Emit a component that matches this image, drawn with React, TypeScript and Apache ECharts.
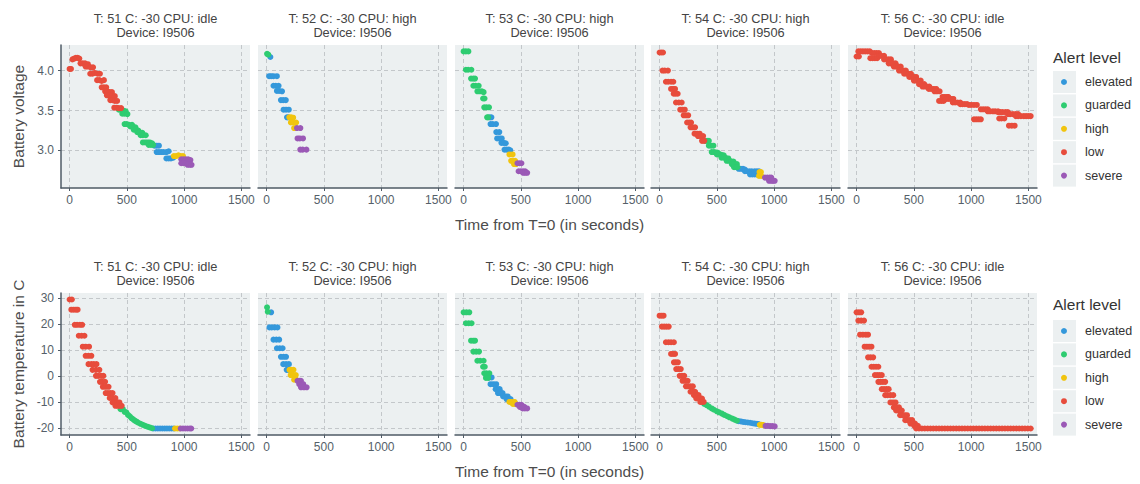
import { useEffect, useRef } from 'react';
import * as echarts from 'echarts';

const levels = ['elevated', 'guarded', 'high', 'low', 'severe'];
const levelCodes = ['e', 'g', 'h', 'l', 's'];
const levelColors = ['#3498db', '#2ecc71', '#f1c40f', '#e74c3c', '#9b59b6'];

const panelTitles = [
  'T: 51 C: -30 CPU: idle',
  'T: 52 C: -30 CPU: high',
  'T: 53 C: -30 CPU: high',
  'T: 54 C: -30 CPU: high',
  'T: 56 C: -30 CPU: idle',
];
const deviceLabel = 'Device: I9506';
const xTicks = [0, 500, 1000, 1500];
const voltTicks = [3.0, 3.5, 4.0];
const tempTicks = [-20, -10, 0, 10, 20, 30];

// [time (s), battery voltage, alert level code]
const volt51 = [
  [0, 4.02, 'l'], [12, 4.02, 'l'],
  [25, 4.14, 'l'], [40, 4.15, 'l'], [55, 4.16, 'l'], [70, 4.16, 'l'], [85, 4.15, 'l'],
  [95, 4.09, 'l'], [115, 4.09, 'l'], [135, 4.09, 'l'], [160, 4.08, 'l'],
  [140, 4.05, 'l'], [160, 4.05, 'l'], [185, 4.04, 'l'], [205, 4.04, 'l'],
  [180, 3.96, 'l'], [200, 3.96, 'l'], [220, 3.97, 'l'], [245, 3.96, 'l'], [265, 3.96, 'l'],
  [240, 3.88, 'l'], [260, 3.88, 'l'], [280, 3.87, 'l'], [300, 3.88, 'l'],
  [280, 3.79, 'l'], [300, 3.79, 'l'], [320, 3.79, 'l'],
  [310, 3.74, 'l'], [330, 3.74, 'l'], [350, 3.73, 'l'], [370, 3.73, 'l'],
  [325, 3.69, 'l'], [345, 3.69, 'l'], [370, 3.68, 'l'], [395, 3.68, 'l'],
  [355, 3.63, 'l'], [375, 3.63, 'l'], [395, 3.62, 'l'], [415, 3.62, 'l'],
  [390, 3.535, 'l'], [410, 3.535, 'l'], [430, 3.53, 'l'], [450, 3.53, 'l'],
  [430, 3.51, 'g'], [450, 3.51, 'g'], [470, 3.5, 'g'], [490, 3.49, 'g'],
  [460, 3.46, 'g'], [480, 3.46, 'g'], [505, 3.455, 'g'],
  [480, 3.33, 'g'], [500, 3.33, 'g'], [520, 3.32, 'g'], [545, 3.32, 'g'],
  [530, 3.3, 'g'], [550, 3.3, 'g'], [575, 3.29, 'g'],
  [560, 3.26, 'g'], [580, 3.26, 'g'], [600, 3.25, 'g'],
  [590, 3.23, 'g'], [610, 3.23, 'g'], [635, 3.22, 'g'],
  [620, 3.19, 'g'], [640, 3.19, 'g'], [665, 3.19, 'g'],
  [640, 3.1, 'g'], [660, 3.1, 'g'], [680, 3.1, 'g'], [700, 3.1, 'g'], [720, 3.09, 'g'],
  [690, 3.07, 'g'], [710, 3.07, 'g'], [730, 3.07, 'g'],
  [740, 3.06, 'e'], [760, 3.06, 'e'], [780, 3.06, 'e'],
  [760, 2.98, 'e'], [780, 2.98, 'e'], [800, 2.98, 'e'], [820, 2.98, 'e'], [845, 2.98, 'e'], [865, 2.99, 'e'],
  [845, 2.9, 'e'], [865, 2.9, 'e'], [885, 2.9, 'e'], [905, 2.91, 'e'],
  [910, 2.93, 'h'], [930, 2.93, 'h'], [950, 2.94, 'h'], [970, 2.93, 'h'], [990, 2.93, 'h'],
  [975, 2.89, 's'], [995, 2.89, 's'], [1015, 2.89, 's'], [1035, 2.89, 's'], [1055, 2.88, 's'],
  [975, 2.84, 's'], [995, 2.84, 's'], [1015, 2.84, 's'], [1040, 2.84, 's'],
  [1030, 2.82, 's'], [1050, 2.82, 's'], [1065, 2.82, 's'],
];

const volt52 = [
  [4, 4.21, 'g'], [15, 4.2, 'g'],
  [33, 4.17, 'e'],
  [22, 3.93, 'e'], [40, 3.93, 'e'], [60, 3.93, 'e'], [90, 3.93, 'e'],
  [60, 3.81, 'e'], [80, 3.81, 'e'], [105, 3.81, 'e'],
  [90, 3.745, 'e'], [110, 3.745, 'e'], [135, 3.74, 'e'],
  [125, 3.63, 'e'], [145, 3.63, 'e'], [168, 3.63, 'e'],
  [148, 3.51, 'e'], [170, 3.51, 'e'], [194, 3.51, 'e'],
  [178, 3.415, 'e'], [190, 3.415, 'e'],
  [198, 3.415, 'h'], [215, 3.415, 'h'], [232, 3.41, 'h'],
  [212, 3.35, 'h'], [230, 3.35, 'h'], [258, 3.35, 'h'],
  [240, 3.28, 'h'], [258, 3.28, 'h'],
  [265, 3.28, 's'], [295, 3.28, 's'],
  [270, 3.15, 's'], [290, 3.15, 's'], [318, 3.15, 's'],
  [294, 3.01, 's'], [315, 3.01, 's'], [348, 3.01, 's'],
];

const volt53 = [
  [0, 4.24, 'g'], [20, 4.24, 'g'], [42, 4.24, 'g'],
  [20, 4.01, 'g'], [40, 4.01, 'g'], [68, 4.01, 'g'],
  [65, 3.9, 'g'], [85, 3.9, 'g'], [100, 3.9, 'g'],
  [85, 3.81, 'g'], [105, 3.81, 'g'], [132, 3.81, 'g'],
  [120, 3.74, 'g'], [140, 3.74, 'g'], [160, 3.74, 'g'], [175, 3.73, 'g'],
  [170, 3.65, 'g'], [183, 3.65, 'g'],
  [180, 3.54, 'g'], [200, 3.54, 'g'], [222, 3.54, 'g'],
  [205, 3.415, 'g'], [215, 3.415, 'g'],
  [228, 3.415, 'e'], [243, 3.415, 'e'],
  [235, 3.33, 'e'], [255, 3.33, 'e'], [283, 3.33, 'e'],
  [285, 3.23, 'e'], [312, 3.23, 'e'],
  [293, 3.15, 'e'], [313, 3.15, 'e'], [333, 3.15, 'e'],
  [330, 3.095, 'e'], [350, 3.095, 'e'], [368, 3.09, 'e'],
  [357, 3.01, 'e'], [377, 3.01, 'e'], [395, 3.01, 'e'], [408, 3.0, 'e'],
  [400, 2.95, 'h'], [428, 2.95, 'h'],
  [415, 2.87, 'h'], [435, 2.87, 'h'], [450, 2.87, 'h'],
  [440, 2.83, 'h'], [458, 2.83, 'h'],
  [470, 2.84, 's'], [488, 2.84, 's'], [505, 2.84, 's'],
  [480, 2.74, 's'], [500, 2.74, 's'], [520, 2.74, 's'], [538, 2.74, 's'],
  [520, 2.72, 's'], [538, 2.72, 's'], [555, 2.72, 's'],
];

const volt54 = [
  [0, 4.226, 'l'], [15, 4.226, 'l'], [30, 4.226, 'l'],
  [25, 4.0, 'l'], [45, 4.0, 'l'], [73, 4.0, 'l'],
  [55, 3.86, 'l'], [75, 3.86, 'l'], [100, 3.86, 'l'], [120, 3.86, 'l'],
  [100, 3.77, 'l'], [118, 3.77, 'l'], [135, 3.77, 'l'],
  [123, 3.71, 'l'], [140, 3.71, 'l'], [158, 3.71, 'l'],
  [143, 3.6, 'l'], [168, 3.6, 'l'], [193, 3.6, 'l'],
  [180, 3.51, 'l'], [200, 3.51, 'l'], [220, 3.51, 'l'],
  [210, 3.44, 'l'], [230, 3.44, 'l'], [250, 3.44, 'l'],
  [240, 3.35, 'l'], [258, 3.35, 'l'], [275, 3.35, 'l'],
  [270, 3.29, 'l'], [290, 3.29, 'l'], [310, 3.29, 'l'],
  [305, 3.21, 'l'], [328, 3.21, 'l'], [350, 3.21, 'l'],
  [335, 3.18, 'l'], [358, 3.18, 'l'], [380, 3.18, 'l'],
  [370, 3.12, 'l'], [390, 3.12, 'l'],
  [398, 3.12, 'g'], [415, 3.12, 'g'], [430, 3.12, 'g'],
  [430, 3.06, 'g'], [450, 3.06, 'g'], [470, 3.06, 'g'],
  [455, 2.98, 'g'], [475, 2.98, 'g'], [495, 2.975, 'g'], [510, 2.97, 'g'],
  [500, 2.95, 'g'], [520, 2.95, 'g'], [540, 2.945, 'g'], [560, 2.94, 'g'],
  [540, 2.91, 'g'], [560, 2.91, 'g'], [580, 2.905, 'g'], [600, 2.9, 'g'],
  [585, 2.87, 'g'], [605, 2.87, 'g'], [625, 2.865, 'g'], [645, 2.86, 'g'],
  [630, 2.83, 'g'], [650, 2.83, 'g'], [675, 2.83, 'g'],
  [650, 2.79, 'g'], [670, 2.79, 'g'], [680, 2.79, 'g'],
  [690, 2.77, 'e'], [710, 2.77, 'e'], [728, 2.77, 'e'], [745, 2.76, 'e'],
  [745, 2.74, 'e'], [765, 2.74, 'e'], [785, 2.74, 'e'], [805, 2.74, 'e'],
  [790, 2.7, 'e'], [810, 2.7, 'e'], [830, 2.7, 'e'], [850, 2.7, 'e'], [865, 2.7, 'e'],
  [830, 2.74, 'e'], [850, 2.74, 'e'], [868, 2.74, 'e'],
  [872, 2.73, 'h'], [885, 2.73, 'h'], [868, 2.68, 'h'], [888, 2.68, 'h'],
  [920, 2.66, 's'], [940, 2.66, 's'], [960, 2.66, 's'], [975, 2.66, 's'],
  [955, 2.62, 's'], [975, 2.62, 's'], [990, 2.62, 's'], [1005, 2.62, 's'],
];

const volt56 = [
  [0, 4.176, 'l'], [20, 4.176, 'l'],
  [15, 4.24, 'l'], [35, 4.24, 'l'], [55, 4.24, 'l'], [75, 4.24, 'l'], [95, 4.24, 'l'], [115, 4.24, 'l'],
  [120, 4.155, 'l'], [140, 4.155, 'l'], [160, 4.155, 'l'], [180, 4.155, 'l'],
  [135, 4.22, 'l'], [155, 4.22, 'l'], [175, 4.22, 'l'], [195, 4.22, 'l'],
  [195, 4.185, 'l'], [215, 4.185, 'l'], [240, 4.185, 'l'],
  [240, 4.14, 'l'], [260, 4.14, 'l'], [280, 4.14, 'l'], [300, 4.14, 'l'],
  [280, 4.09, 'l'], [300, 4.09, 'l'], [320, 4.09, 'l'], [340, 4.09, 'l'],
  [325, 4.05, 'l'], [345, 4.05, 'l'], [365, 4.05, 'l'], [385, 4.05, 'l'],
  [370, 4.0, 'l'], [390, 4.0, 'l'], [410, 4.0, 'l'], [430, 4.0, 'l'],
  [415, 3.96, 'l'], [435, 3.96, 'l'], [455, 3.96, 'l'], [475, 3.96, 'l'],
  [460, 3.92, 'l'], [480, 3.92, 'l'], [500, 3.92, 'l'], [520, 3.92, 'l'],
  [500, 3.875, 'l'], [520, 3.875, 'l'], [540, 3.875, 'l'], [560, 3.875, 'l'],
  [545, 3.83, 'l'], [565, 3.83, 'l'], [590, 3.83, 'l'],
  [575, 3.8, 'l'], [595, 3.8, 'l'], [615, 3.8, 'l'], [635, 3.8, 'l'],
  [630, 3.77, 'l'], [650, 3.77, 'l'], [672, 3.77, 'l'], [695, 3.77, 'l'],
  [680, 3.74, 'l'], [700, 3.74, 'l'], [725, 3.74, 'l'],
  [720, 3.62, 'l'], [740, 3.62, 'l'], [760, 3.62, 'l'],
  [750, 3.67, 'l'], [770, 3.67, 'l'], [790, 3.67, 'l'], [800, 3.67, 'l'],
  [785, 3.645, 'l'], [805, 3.645, 'l'], [825, 3.645, 'l'], [845, 3.645, 'l'],
  [840, 3.6, 'l'], [860, 3.6, 'l'], [882, 3.6, 'l'], [905, 3.6, 'l'],
  [905, 3.58, 'l'], [925, 3.58, 'l'], [945, 3.58, 'l'], [965, 3.58, 'l'],
  [980, 3.57, 'l'], [1000, 3.57, 'l'], [1025, 3.57, 'l'], [1050, 3.57, 'l'],
  [1025, 3.39, 'l'], [1045, 3.39, 'l'], [1065, 3.39, 'l'], [1085, 3.39, 'l'],
  [1085, 3.515, 'l'], [1105, 3.515, 'l'], [1125, 3.515, 'l'], [1145, 3.515, 'l'],
  [1145, 3.49, 'l'], [1165, 3.49, 'l'], [1190, 3.49, 'l'], [1210, 3.49, 'l'], [1235, 3.49, 'l'],
  [1235, 3.48, 'l'], [1255, 3.48, 'l'], [1275, 3.48, 'l'], [1300, 3.48, 'l'], [1320, 3.48, 'l'],
  [1245, 3.4, 'l'], [1265, 3.4, 'l'], [1290, 3.4, 'l'],
  [1330, 3.31, 'l'], [1355, 3.31, 'l'], [1380, 3.31, 'l'],
  [1320, 3.455, 'l'], [1340, 3.455, 'l'], [1365, 3.455, 'l'], [1390, 3.455, 'l'], [1410, 3.455, 'l'],
  [1390, 3.43, 'l'], [1410, 3.43, 'l'], [1435, 3.43, 'l'], [1460, 3.43, 'l'], [1480, 3.43, 'l'], [1500, 3.43, 'l'], [1520, 3.43, 'l'],
];

// [time (s), battery temperature in C, alert level code]
const temp51 = [
  [0, 29.5, 'l'], [20, 29.5, 'l'],
  [15, 25.6, 'l'], [35, 25.6, 'l'], [55, 25.6, 'l'], [70, 25.6, 'l'],
  [45, 19.8, 'l'], [65, 19.8, 'l'], [90, 19.8, 'l'], [110, 19.8, 'l'],
  [80, 15.6, 'l'], [105, 15.6, 'l'], [130, 15.6, 'l'],
  [115, 11.4, 'l'], [140, 11.4, 'l'], [170, 11.4, 'l'],
  [140, 7.9, 'l'], [165, 7.9, 'l'], [190, 7.9, 'l'],
  [165, 4.7, 'l'], [190, 4.7, 'l'], [212, 4.7, 'l'], [235, 4.7, 'l'],
  [200, 2.5, 'l'], [230, 2.5, 'l'], [260, 2.5, 'l'],
  [230, 0.2, 'l'], [250, 0.2, 'l'], [275, 0.2, 'l'], [295, 0.2, 'l'],
  [265, -2.1, 'l'], [285, -2.1, 'l'], [310, -2.1, 'l'],
  [290, -4, 'l'], [315, -4, 'l'], [340, -4, 'l'],
  [315, -6.4, 'l'], [335, -6.4, 'l'], [355, -6.4, 'l'], [375, -6.4, 'l'],
  [350, -8.3, 'l'], [375, -8.3, 'l'], [400, -8.3, 'l'],
  [375, -10, 'l'], [400, -10, 'l'], [418, -10, 'l'], [435, -10, 'l'],
  [400, -11.3, 'l'], [420, -11.3, 'l'], [440, -11.3, 'l'], [455, -11.3, 'l'],
  [445, -12.6, 'g'], [465, -12.6, 'g'], [480, -13.6, 'g'], [495, -13.8, 'g'], [510, -14.8, 'g'],
  [525, -15.3, 'g'], [540, -16, 'g'], [555, -16.5, 'g'], [570, -17, 'g'], [585, -17.4, 'g'],
  [600, -17.8, 'g'], [620, -18.2, 'g'], [640, -18.6, 'g'], [660, -19, 'g'], [680, -19.3, 'g'],
  [700, -19.6, 'g'], [720, -19.9, 'g'],
  [730, -20, 'e'], [750, -20, 'e'], [770, -20, 'e'], [790, -20, 'e'], [810, -20, 'e'],
  [830, -20, 'e'], [850, -20, 'e'], [870, -20, 'e'], [890, -20, 'e'], [910, -20, 'e'],
  [920, -20, 'h'], [940, -20, 'h'], [960, -20, 'h'],
  [970, -20, 's'], [990, -20, 's'], [1010, -20, 's'], [1030, -20, 's'], [1050, -20, 's'], [1062, -20, 's'],
];

const temp52 = [
  [4, 26.5, 'g'], [10, 24.8, 'g'],
  [40, 24.6, 'e'],
  [25, 18.8, 'e'], [45, 18.8, 'e'], [70, 18.8, 'e'], [95, 18.8, 'e'],
  [60, 14.1, 'e'], [85, 14.1, 'e'], [110, 14.1, 'e'],
  [90, 10.8, 'e'], [115, 10.8, 'e'], [140, 10.8, 'e'],
  [125, 7.5, 'e'], [148, 7.5, 'e'], [170, 7.5, 'e'],
  [145, 4.7, 'e'], [170, 4.7, 'e'], [195, 4.7, 'e'],
  [175, 2.5, 'e'], [190, 2.5, 'e'],
  [200, 2.5, 'h'], [218, 2.5, 'h'], [235, 2.5, 'h'],
  [210, 0.5, 'h'], [232, 0.5, 'h'], [255, 0.5, 'h'],
  [240, -1.3, 'h'], [260, -1.3, 'h'],
  [270, -1.7, 's'], [290, -1.7, 's'], [300, -1.7, 's'],
  [285, -3, 's'], [305, -3, 's'], [320, -3, 's'],
  [300, -4.2, 's'], [325, -4.2, 's'], [350, -4.2, 's'],
];

const temp53 = [
  [0, 24.6, 'g'], [25, 24.6, 'g'], [50, 24.6, 'g'],
  [20, 20.4, 'g'], [45, 20.4, 'g'], [70, 20.4, 'g'],
  [65, 13.7, 'g'], [85, 13.7, 'g'], [100, 13.7, 'g'],
  [85, 9.5, 'g'], [110, 9.5, 'g'], [135, 9.5, 'g'],
  [120, 6, 'g'], [145, 6, 'g'], [175, 6, 'g'],
  [170, 3.7, 'g'], [185, 3.7, 'g'],
  [180, 1.2, 'g'], [200, 1.2, 'g'], [225, 1.2, 'g'],
  [195, -0.6, 'g'], [215, -0.6, 'g'],
  [225, -0.4, 'e'], [245, -0.4, 'e'],
  [235, -3, 'e'], [260, -3, 'e'], [285, -3, 'e'],
  [280, -4.9, 'e'], [298, -4.9, 'e'], [315, -4.9, 'e'],
  [300, -6.4, 'e'], [320, -6.4, 'e'], [340, -6.4, 'e'],
  [345, -7.7, 'e'], [365, -7.7, 'e'], [385, -7.7, 'e'],
  [375, -8.7, 'e'], [392, -8.7, 'e'], [410, -8.7, 'e'],
  [400, -9.8, 'h'], [420, -9.8, 'h'], [445, -9.8, 'h'],
  [430, -10.6, 'h'], [445, -10.6, 'h'], [460, -10.6, 'h'],
  [470, -10.9, 's'], [488, -10.9, 's'], [505, -10.9, 's'],
  [490, -11.7, 's'], [510, -11.7, 's'], [530, -11.7, 's'],
  [515, -12.3, 's'], [535, -12.3, 's'], [555, -12.3, 's'],
];

const temp54 = [
  [0, 23.3, 'l'], [18, 23.3, 'l'], [35, 23.3, 'l'],
  [20, 19.1, 'l'], [40, 19.1, 'l'], [60, 19.1, 'l'], [80, 19.1, 'l'],
  [55, 13.1, 'l'], [78, 13.1, 'l'], [100, 13.1, 'l'], [125, 13.1, 'l'],
  [100, 8.6, 'l'], [118, 8.6, 'l'], [135, 8.6, 'l'],
  [125, 5.4, 'l'], [142, 5.4, 'l'], [160, 5.4, 'l'],
  [145, 2.8, 'l'], [165, 2.8, 'l'], [185, 2.8, 'l'],
  [175, 0.2, 'l'], [195, 0.2, 'l'], [215, 0.2, 'l'],
  [200, -1.7, 'l'], [222, -1.7, 'l'], [245, -1.7, 'l'],
  [230, -3.8, 'l'], [250, -3.8, 'l'], [270, -3.8, 'l'], [290, -3.8, 'l'],
  [270, -5.9, 'l'], [290, -5.9, 'l'], [310, -5.9, 'l'],
  [300, -7.2, 'l'], [320, -7.2, 'l'], [340, -7.2, 'l'],
  [320, -8.5, 'l'], [345, -8.5, 'l'], [370, -8.5, 'l'],
  [355, -9.8, 'l'], [370, -9.8, 'l'], [385, -9.8, 'l'],
  [390, -10.6, 'g'], [410, -11, 'g'], [430, -11.6, 'g'], [455, -12.3, 'g'], [475, -12.8, 'g'],
  [500, -13.4, 'g'], [520, -13.8, 'g'], [545, -14.3, 'g'], [565, -14.8, 'g'], [590, -15.3, 'g'],
  [610, -15.7, 'g'], [635, -16.2, 'g'], [655, -16.6, 'g'], [675, -17, 'g'],
  [690, -17.2, 'e'], [710, -17.3, 'e'], [730, -17.5, 'e'], [750, -17.6, 'e'], [770, -17.7, 'e'],
  [790, -17.8, 'e'], [810, -18, 'e'], [830, -18.1, 'e'], [850, -18.2, 'e'], [865, -18.3, 'e'],
  [875, -18.6, 'h'], [890, -18.6, 'h'], [905, -18.7, 'h'],
  [925, -19, 's'], [945, -19, 's'], [965, -19.1, 's'], [985, -19.1, 's'], [1005, -19.2, 's'],
];

const temp56 = [
  [0, 24.6, 'l'], [20, 24.6, 'l'], [40, 24.6, 'l'],
  [15, 21.4, 'l'], [40, 21.4, 'l'], [65, 21.4, 'l'],
  [30, 16, 'l'], [55, 16, 'l'], [80, 16, 'l'], [100, 16, 'l'],
  [70, 11.4, 'l'], [90, 11.4, 'l'], [110, 11.4, 'l'], [130, 11.4, 'l'],
  [100, 7.3, 'l'], [122, 7.3, 'l'], [145, 7.3, 'l'],
  [130, 3.7, 'l'], [150, 3.7, 'l'], [170, 3.7, 'l'], [190, 3.7, 'l'],
  [160, 0.5, 'l'], [180, 0.5, 'l'], [200, 0.5, 'l'], [220, 0.5, 'l'],
  [190, -2.1, 'l'], [210, -2.1, 'l'], [230, -2.1, 'l'], [250, -2.1, 'l'],
  [220, -4.9, 'l'], [240, -4.9, 'l'], [260, -4.9, 'l'], [280, -4.9, 'l'],
  [250, -7.2, 'l'], [270, -7.2, 'l'], [295, -7.2, 'l'], [320, -7.2, 'l'],
  [295, -10, 'l'], [318, -10, 'l'], [340, -10, 'l'],
  [325, -11.9, 'l'], [348, -11.9, 'l'], [370, -11.9, 'l'],
  [345, -13.1, 'l'], [370, -13.1, 'l'], [395, -13.1, 'l'],
  [380, -14.9, 'l'], [400, -14.9, 'l'], [420, -14.9, 'l'], [440, -14.9, 'l'],
  [425, -16.8, 'l'], [445, -16.8, 'l'], [465, -16.8, 'l'], [485, -16.8, 'l'],
  [470, -18.1, 'l'], [490, -18.1, 'l'], [510, -18.1, 'l'],
  [505, -19, 'l'], [520, -19, 'l'], [535, -19, 'l'],
  [520, -20, 'l'], [545, -20, 'l'], [570, -20, 'l'], [595, -20, 'l'], [620, -20, 'l'],
  [645, -20, 'l'], [670, -20, 'l'], [695, -20, 'l'], [720, -20, 'l'], [745, -20, 'l'],
  [770, -20, 'l'], [795, -20, 'l'], [820, -20, 'l'], [845, -20, 'l'], [870, -20, 'l'],
  [895, -20, 'l'], [920, -20, 'l'], [945, -20, 'l'], [970, -20, 'l'], [995, -20, 'l'],
  [1020, -20, 'l'], [1045, -20, 'l'], [1070, -20, 'l'], [1095, -20, 'l'], [1120, -20, 'l'],
  [1145, -20, 'l'], [1170, -20, 'l'], [1195, -20, 'l'], [1220, -20, 'l'], [1245, -20, 'l'],
  [1270, -20, 'l'], [1295, -20, 'l'], [1320, -20, 'l'], [1345, -20, 'l'], [1370, -20, 'l'],
  [1395, -20, 'l'], [1420, -20, 'l'], [1445, -20, 'l'], [1470, -20, 'l'], [1495, -20, 'l'],
  [1520, -20, 'l'],
];

const FONT = '"Liberation Sans", Arial, Helvetica, sans-serif';
const PANEL_LEFTS = [61, 258, 455, 651, 848];
const PANEL_W = 189;
const ROW_TOPS = [45, 293];
const ROW_H = [143, 142];
const LEGEND_TOPS = [70.5, 319.5];
const ITEM_STEP = 23.4;

export default function App() {
  const ref = useRef<HTMLDivElement>(null);

  useEffect(() => {
    document.body.style.margin = '0';
    if (!ref.current) return;
    const chart = echarts.init(ref.current, undefined, { renderer: 'svg' });

    const rows = [
      [volt51, volt52, volt53, volt54, volt56],
      [temp51, temp52, temp53, temp54, temp56],
    ];
    const yCfg = [
      { min: 2.53, max: 4.32, ticks: voltTicks, name: 'Battery voltage', fmt: (v: number) => v.toFixed(1) },
      { min: -22.5, max: 32, ticks: tempTicks, name: 'Battery temperature in C', fmt: (v: number) => String(v) },
    ];

    const grid: any[] = [];
    const xAxis: any[] = [];
    const yAxis: any[] = [];
    const series: any[] = [];
    const graphic: any[] = [];
    const axisColor = '#4f5b66';
    const labelColor = '#555f69';
    const splitLine = { show: true, lineStyle: { color: '#c3c7ca', type: [4, 3], width: 1 } };

    rows.forEach((row, r) => {
      row.forEach((pts, c) => {
        const idx = r * 5 + c;
        grid.push({
          left: PANEL_LEFTS[c], top: ROW_TOPS[r], width: PANEL_W, height: ROW_H[r],
          show: true, backgroundColor: '#ecf0f1', borderWidth: 0,
        });
        xAxis.push({
          type: 'value', gridIndex: idx, min: -75, max: 1575,
          axisLine: { show: true, onZero: false, lineStyle: { color: axisColor, width: 1.5 } },
          axisTick: { show: true, length: 3, customValues: xTicks, lineStyle: { color: axisColor } },
          axisLabel: {
            customValues: xTicks, formatter: (v: number) => String(v),
            fontFamily: FONT, fontSize: 12, color: labelColor, margin: 6, hideOverlap: false,
          },
          splitLine,
          name: c === 2 ? 'Time from T=0 (in seconds)' : '',
          nameLocation: 'middle', nameGap: 28,
          nameTextStyle: { fontFamily: FONT, fontSize: 15.5, color: '#4d4d4d' },
        });
        const yc = yCfg[r];
        yAxis.push({
          type: 'value', gridIndex: idx, min: yc.min, max: yc.max,
          axisLine: { show: c === 0, onZero: false, lineStyle: { color: axisColor, width: 1.5 } },
          axisTick: { show: c === 0, length: 3, customValues: yc.ticks, lineStyle: { color: axisColor } },
          axisLabel: { show: c === 0, customValues: yc.ticks, formatter: yc.fmt, fontFamily: FONT, fontSize: 12, color: labelColor, margin: 7 },
          splitLine,
          name: c === 0 ? yc.name : '',
          nameLocation: 'middle', nameGap: 35,
          nameTextStyle: { fontFamily: FONT, fontSize: 15.5, color: '#4d4d4d' },
        });
        levelCodes.forEach((code, k) => {
          const data = pts.filter((p) => p[2] === code).map((p) => [p[0], p[1]]);
          if (!data.length) return;
          series.push({
            type: 'scatter', name: levels[k], xAxisIndex: idx, yAxisIndex: idx,
            data, symbol: 'circle', symbolSize: 6,
            itemStyle: { color: levelColors[k], opacity: 1 },
            emphasis: { disabled: true },
          });
        });
        const cx = PANEL_LEFTS[c] + PANEL_W / 2;
        const ty = r === 0 ? 18 : 266;
        graphic.push({
          type: 'text', x: cx, y: ty, silent: true,
          style: { text: panelTitles[c], fontFamily: FONT, fontSize: 12.8, fill: '#444', align: 'center', verticalAlign: 'middle' },
        });
        graphic.push({
          type: 'text', x: cx, y: ty + 14.5, silent: true,
          style: { text: deviceLabel, fontFamily: FONT, fontSize: 12.8, fill: '#444', align: 'center', verticalAlign: 'middle' },
        });
      });

      graphic.push({
        type: 'text', x: 1053, y: r === 0 ? 57 : 304, silent: true,
        style: { text: 'Alert level', fontFamily: FONT, fontSize: 15.5, fill: '#333', align: 'left', verticalAlign: 'middle' },
      });
      levels.forEach((_, i) => {
        const cy = LEGEND_TOPS[r] + 11.5 + i * ITEM_STEP;
        graphic.push({
          type: 'rect', z: -1, silent: true,
          shape: { x: 1053, y: cy - 11, width: 23, height: 22 },
          style: { fill: '#ecf0f1' },
        });
      });
    });

    const legend = [0, 1].map((r) => ({
      orient: 'vertical', left: 1061, top: LEGEND_TOPS[r], padding: 0,
      itemWidth: 6, itemHeight: 6, itemGap: ITEM_STEP - 23, icon: 'circle',
      data: levels, z: 5,
      textStyle: { fontFamily: FONT, fontSize: 12.5, lineHeight: 23, color: '#333', padding: [0, 0, 0, 13] },
    }));

    chart.setOption({
      animation: false,
      backgroundColor: '#ffffff',
      grid, xAxis, yAxis, series, legend, graphic,
    });

    return () => chart.dispose();
  }, []);

  return <div ref={ref} style={{ width: 1140, height: 484 }} />;
}
